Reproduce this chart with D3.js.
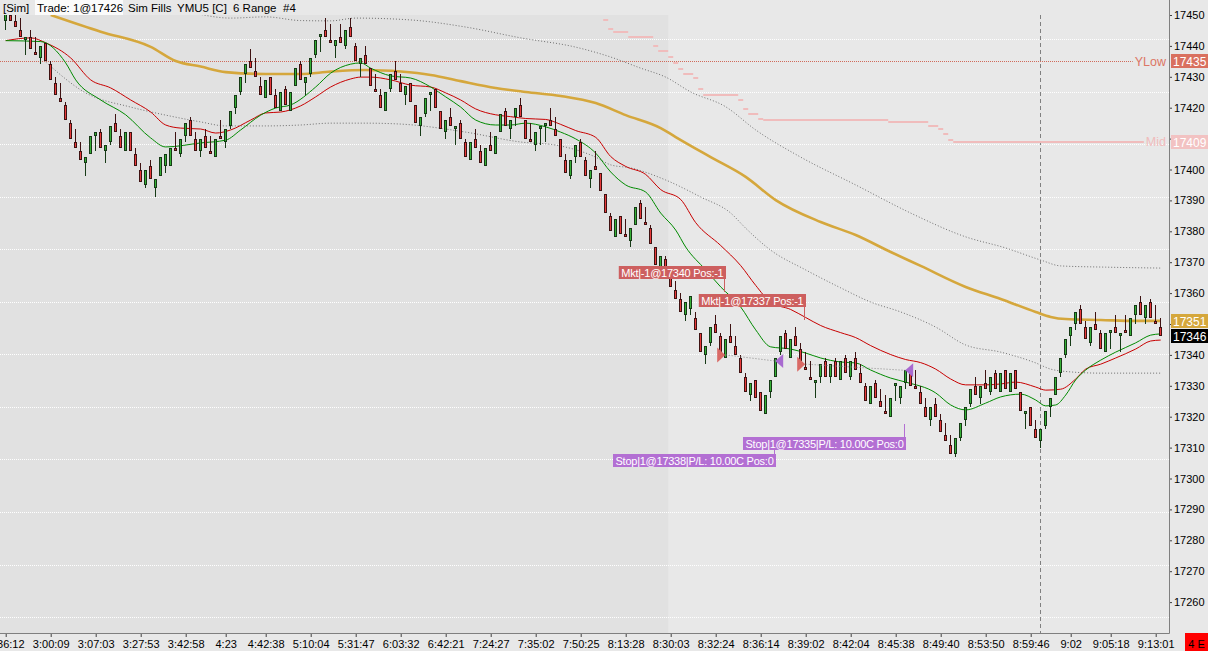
<!DOCTYPE html>
<html>
<head>
<meta charset="utf-8">
<script src="https://cdn.jsdelivr.net/npm/d3@7"></script>
<style>
  body { margin: 0; background: #e8e8e8; overflow: hidden; }
  svg { display: block; font-family: "Liberation Sans", Arial, sans-serif; }
</style>
</head>
<body>
<svg id="chart" width="1208" height="651"></svg>
<script>
// ---- range bars (6 range), bar 1..232 ----
var opens = [
  17448,17450,17448,17445,17442,17443,17438,17436,17441,17434,
  17428,17423,17421,17415,17409,17406,17402,17405,17411,17412,
  17406,17409,17415,17411,17406,17412,17405,17400,17395,17401,
  17394,17398,17401,17401,17407,17405,17411,17416,17410,17406,
  17411,17406,17404,17411,17409,17414,17420,17425,17431,17435,
  17432,17427,17423,17430,17424,17419,17426,17419,17427,17434,
  17428,17431,17437,17443,17445,17442,17440,17443,17440,17446,
  17440,17434,17437,17433,17426,17424,17419,17426,17432,17428,
  17424,17428,17421,17414,17418,17424,17426,17419,17412,17417,
  17413,17415,17409,17403,17410,17406,17401,17408,17405,17412,
  17419,17413,17417,17421,17416,17410,17408,17413,17414,17416,
  17413,17410,17403,17398,17404,17409,17403,17397,17401,17399,
  17392,17385,17378,17385,17379,17377,17382,17389,17383,17381,
  17375,17368,17371,17365,17361,17358,17353,17355,17352,17347,
  17340,17344,17350,17346,17339,17346,17343,17339,17333,17327,
  17332,17328,17321,17328,17333,17341,17347,17339,17346,17342,
  17336,17333,17331,17333,17338,17333,17338,17332,17339,17333,
  17339,17334,17330,17324,17331,17325,17322,17320,17330,17326,
  17331,17334,17330,17328,17323,17319,17324,17319,17314,17311,
  17308,17313,17319,17324,17330,17326,17331,17328,17334,17328,
  17335,17328,17335,17328,17321,17323,17316,17312,17317,17323,
  17327,17334,17340,17346,17350,17355,17349,17344,17350,17347,
  17341,17347,17349,17346,17348,17346,17353,17357,17352,17357,17351,17349
];
var highs = [
  17451,17454,17452,17449,17443,17445,17443,17440,17441,17435,
  17430,17428,17422,17416,17413,17409,17404,17411,17412,17413,
  17408,17414,17418,17413,17412,17412,17407,17402,17400,17403,
  17397,17404,17405,17407,17412,17410,17415,17417,17412,17410,
  17413,17411,17410,17416,17413,17419,17424,17430,17434,17439,
  17436,17430,17429,17430,17426,17425,17427,17425,17433,17435,
  17430,17436,17442,17444,17449,17447,17442,17447,17445,17449,
  17441,17436,17440,17433,17431,17426,17425,17431,17435,17431,
  17427,17428,17421,17417,17423,17425,17426,17419,17416,17420,
  17414,17416,17410,17409,17413,17408,17407,17412,17411,17418,
  17420,17416,17420,17423,17416,17415,17412,17414,17415,17420,
  17417,17410,17405,17403,17408,17410,17404,17400,17406,17399,
  17392,17386,17384,17385,17384,17381,17388,17390,17388,17382,
  17375,17372,17372,17368,17364,17360,17357,17359,17354,17347,
  17343,17349,17353,17347,17345,17350,17346,17340,17334,17331,
  17332,17328,17327,17332,17339,17346,17348,17345,17349,17344,
  17341,17338,17332,17337,17339,17337,17339,17338,17340,17338,
  17341,17337,17331,17330,17332,17329,17327,17326,17331,17330,
  17335,17336,17335,17330,17326,17323,17326,17321,17318,17314,
  17313,17318,17323,17329,17333,17330,17335,17333,17335,17334,
  17335,17334,17335,17328,17322,17323,17319,17316,17322,17326,
  17333,17339,17345,17349,17354,17356,17351,17349,17354,17348,
  17347,17348,17353,17347,17353,17352,17356,17359,17356,17358,17356,17352
];
var lows = [
  17445,17448,17446,17443,17437,17439,17437,17434,17435,17429,
  17424,17422,17416,17410,17407,17403,17398,17405,17406,17407,
  17402,17408,17412,17407,17406,17406,17401,17396,17394,17397,
  17391,17398,17399,17401,17406,17404,17409,17411,17406,17404,
  17407,17405,17404,17410,17407,17413,17418,17424,17428,17433,
  17430,17424,17423,17424,17420,17419,17421,17419,17427,17429,
  17424,17430,17436,17438,17443,17441,17436,17441,17439,17443,
  17435,17430,17434,17427,17425,17420,17419,17425,17429,17425,
  17421,17422,17415,17411,17417,17419,17420,17413,17410,17414,
  17408,17410,17404,17403,17407,17402,17401,17406,17405,17412,
  17414,17410,17414,17417,17410,17409,17406,17408,17409,17414,
  17411,17404,17399,17397,17402,17404,17398,17394,17400,17393,
  17386,17380,17378,17379,17378,17375,17382,17384,17382,17376,
  17369,17366,17366,17362,17358,17354,17351,17353,17348,17341,
  17337,17343,17347,17341,17339,17344,17340,17334,17328,17325,
  17326,17322,17321,17326,17333,17340,17342,17339,17343,17338,
  17335,17332,17326,17331,17333,17331,17333,17332,17334,17332,
  17335,17331,17325,17324,17326,17323,17321,17320,17325,17324,
  17329,17330,17329,17324,17320,17317,17320,17315,17312,17308,
  17307,17312,17317,17323,17327,17324,17329,17327,17329,17328,
  17329,17328,17329,17322,17316,17317,17313,17310,17316,17320,
  17327,17333,17339,17343,17348,17350,17345,17343,17348,17342,
  17341,17342,17347,17341,17347,17346,17350,17353,17350,17352,17350,17346
];
var closes = [
  17451,17448,17446,17443,17443,17439,17437,17440,17435,17429,
  17424,17422,17416,17410,17407,17403,17404,17411,17412,17407,
  17408,17414,17412,17407,17412,17406,17401,17396,17400,17397,
  17397,17404,17405,17407,17406,17410,17415,17411,17406,17410,
  17407,17405,17410,17410,17413,17419,17424,17430,17434,17433,
  17430,17424,17429,17424,17420,17425,17421,17425,17433,17429,
  17430,17436,17442,17444,17443,17441,17442,17441,17445,17443,
  17435,17436,17434,17427,17425,17420,17425,17431,17429,17425,
  17427,17422,17415,17417,17423,17425,17420,17413,17416,17414,
  17414,17410,17404,17409,17407,17402,17407,17406,17411,17418,
  17414,17416,17420,17417,17410,17409,17412,17414,17415,17414,
  17411,17404,17399,17403,17408,17404,17398,17400,17400,17393,
  17386,17380,17384,17379,17378,17381,17388,17384,17382,17376,
  17369,17372,17366,17362,17358,17354,17357,17359,17348,17341,
  17343,17349,17347,17341,17345,17344,17340,17334,17328,17331,
  17326,17322,17327,17332,17339,17346,17342,17345,17343,17338,
  17335,17332,17332,17337,17333,17337,17333,17338,17334,17338,
  17335,17331,17325,17330,17326,17323,17321,17326,17331,17330,
  17335,17330,17329,17324,17320,17323,17320,17315,17312,17308,
  17313,17318,17323,17329,17327,17330,17329,17333,17329,17334,
  17329,17334,17329,17322,17322,17317,17313,17316,17322,17326,
  17333,17339,17345,17349,17354,17350,17345,17349,17348,17342,
  17347,17348,17347,17347,17347,17352,17356,17353,17356,17352,17350,17346
];

// ---- indicator lines, read at sample bars ----
var fastMaBars = [1,8,13,15,20,25,30,33,40,45,48,52,55,58,63,66,70,72,74,78,82,86,89,92,95,99,102,105,109,112,115,119,122,125,129,132,135,137,141,144,148,151,154,158,161,164,168,171,174,178,181,187,190,193,197,200,204,207,209,211,213,215,217,220,223,227,230,232];
var fastMaValues = [17441.7,17441.4,17434.5,17429.0,17422.5,17417.7,17410.2,17407.3,17408.6,17409.5,17412.8,17417.6,17419.9,17420.9,17426.7,17431.2,17434.1,17434.5,17432.8,17430.3,17429.6,17426.7,17423.5,17420.2,17416.0,17414.4,17414.4,17415.0,17413.8,17412.1,17409.9,17405.3,17399.2,17395.0,17392.7,17385.9,17380.4,17374.9,17367.5,17362.0,17355.5,17348.1,17342.6,17341.9,17340.6,17339.0,17337.7,17337.4,17335.1,17332.5,17331.2,17327.7,17323.8,17322.2,17324.4,17326.4,17327.3,17325.4,17323.5,17323.8,17327.0,17331.9,17335.1,17338.3,17340.9,17343.9,17346.4,17346.8];

var slowMaBars = [1,6,9,14,18,22,26,30,33,36,40,43,46,50,53,56,60,63,66,70,72,74,78,82,86,89,92,95,99,102,105,109,112,115,119,122,125,129,132,136,139,144,148,151,154,158,161,164,168,171,174,178,181,184,187,190,193,197,200,203,207,209,212,215,217,220,223,227,230,232];
var slowMaValues = [17441.7,17442.6,17441.0,17436.1,17429.0,17426.4,17422.5,17418.6,17414.4,17413.4,17413.1,17411.8,17412.8,17416.0,17418.3,17418.6,17420.6,17423.5,17426.7,17429.3,17429.9,17429.9,17429.0,17427.3,17426.7,17424.8,17422.5,17419.6,17417.7,17417.1,17416.5,17416.2,17414.6,17412.6,17410.4,17404.2,17401.0,17398.4,17393.5,17390.3,17382.8,17375.4,17368.9,17362.5,17357.0,17354.7,17352.1,17349.5,17347.2,17345.6,17343.0,17340.1,17338.5,17337.5,17335.4,17332.2,17330.3,17330.3,17330.6,17331.2,17329.6,17328.6,17328.9,17332.2,17335.4,17337.0,17339.0,17341.9,17344.5,17344.8];

var longMaBars = [10,20,30,35,40,45,53,60,66,73,80,86,92,99,105,112,119,125,132,135,142,149,155,164,171,178,184,193,200,207,210,213,220,227,232];
var longMaValues = [17450.0,17444.6,17439.7,17435.1,17433.3,17431.5,17430.9,17430.9,17431.7,17432.2,17431.7,17430.6,17428.6,17426.4,17425.1,17423.8,17421.5,17417.6,17413.4,17410.5,17404.0,17397.6,17390.1,17383.0,17378.8,17373.3,17368.8,17362.0,17358.1,17353.9,17352.3,17351.6,17351.3,17351.0,17351.0];

var upperBandBars = [39,46,53,60,66,71,82,93,104,115,122,128,133,138,145,151,160,171,182,193,201,208,212,221,232];
var upperBandValues = [17450.5,17449.0,17449.4,17448.2,17448.1,17449.0,17448.4,17446.1,17442.6,17439.6,17436.4,17432.8,17429.9,17425.1,17420.3,17412.8,17404.0,17395.0,17385.9,17378.2,17374.6,17370.7,17368.8,17368.4,17368.1];

var lowerBandBars = [9,17,26,33,40,45,53,60,66,73,80,93,104,111,119,122,126,133,140,146,149,154,161,168,174,180,187,193,200,207,210,212,220,232];
var lowerBandValues = [17434.8,17424.8,17420.2,17417.6,17415.4,17414.1,17414.1,17414.4,17415.0,17415.0,17414.7,17412.1,17408.9,17407.9,17404.0,17401.5,17400.5,17396.6,17391.1,17385.9,17381.0,17373.9,17367.5,17361.7,17357.1,17353.9,17349.0,17343.2,17340.9,17337.4,17335.4,17334.8,17334.1,17334.1];

// day mid (steps start at these bars)
var midStepBars = [121,122,123,126,131,132,134,135,136,137,139,140,141,148,149,150,152,153,178,186,188,189,190,191];
var midStepValues = [17448.5,17445.5,17444.5,17443,17440,17438.5,17436.5,17434.5,17432.5,17431,17429.5,17426,17424,17422.5,17419.5,17418,17416.5,17416,17415.5,17414,17413,17411.5,17409.5,17409];
var yesterdayLow = 17435;

// executions
var execBars = [145, 155, 161, 181];
var execPrices = [17340, 17338, 17337, 17335];
var execSides = ['sell', 'buy', 'sell', 'buy'];
var execTexts = ['Mkt|-1@17340 Pos:-1', 'Stop|1@17338|P/L: 10.00C Pos:0', 'Mkt|-1@17337 Pos:-1', 'Stop|1@17335|P/L: 10.00C Pos:0'];
var execLabelPrices = [17366.8, 17305.8, 17357.6, 17311.2];

// axes
var priceTicks = d3.range(17260, 17451, 10);
var gridPrices = [17442, 17425, 17408, 17391, 17374, 17357, 17340, 17323, 17306, 17289, 17272, 17255];
var timeTickBars = [1,10,19,28,37,45,53,62,71,80,89,98,107,116,125,134,143,152,161,170,179,188,197,206,214,222,231];
var timeTickLabels = ['2:36:12','3:00:09','3:07:03','3:27:53','3:42:58','4:23','4:42:38','5:10:04','5:31:47','6:03:32','6:42:21','7:24:27','7:35:02','7:50:25','8:13:28','8:30:03','8:32:24','8:36:14','8:39:02','8:42:04','8:45:38','8:49:40','8:53:50','8:59:46','9:02','9:05:18','9:13:01'];
var sessionOpenBar = 134;
var markerBar = 208;
var lastPrice = 17346;
var longMaLast = 17351;
var dayMid = 17409;

// ---- drawing ----
var W = 1208, H = 651, axisX = 1169, axisY = 633, plotTop = 15;
var svg = d3.select('#chart');

var x = d3.scaleLinear().domain([1, 232]).range([5.7, 1160.7]);
var y = d3.scaleLinear().domain([17260, 17450]).range([602.1, 15]);
var px = function(v) { return Math.floor(v) + 0.5; };

svg.append('rect').attr('width', W).attr('height', H).attr('fill', '#e8e8e8');

svg.append('defs').append('clipPath').attr('id', 'plotclip')
  .append('rect').attr('x', 0).attr('y', plotTop).attr('width', axisX).attr('height', axisY - plotTop);

var plot = svg.append('g').attr('clip-path', 'url(#plotclip)');

// overnight session shading
plot.append('rect')
  .attr('x', 0).attr('y', plotTop)
  .attr('width', x(sessionOpenBar) - 2.5).attr('height', axisY - plotTop)
  .attr('fill', '#e1e1e1');

// grid
plot.selectAll('line.grid').data(gridPrices).enter().append('line')
  .attr('class', 'grid')
  .attr('x1', 0).attr('x2', axisX)
  .attr('y1', function(d) { return px(y(d)); })
  .attr('y2', function(d) { return px(y(d)); })
  .attr('stroke', '#ffffff').attr('stroke-dasharray', '1,1');

// vertical marker
plot.append('line')
  .attr('x1', px(x(markerBar))).attr('x2', px(x(markerBar)))
  .attr('y1', plotTop).attr('y2', axisY)
  .attr('stroke', '#808080').attr('stroke-dasharray', '4,3');

// yesterday low
var ylowText = svg.append('text')
  .attr('x', 1166).attr('y', y(yesterdayLow) + 4.5)
  .attr('text-anchor', 'end').attr('font-size', 12.5)
  .attr('fill', '#dc7665').text('YLow');
plot.append('line')
  .attr('x1', 0).attr('x2', ylowText.node().getBBox().x - 2)
  .attr('y1', px(y(yesterdayLow))).attr('y2', px(y(yesterdayLow)))
  .attr('stroke', '#d06a5a').attr('stroke-dasharray', '1,1');

// day mid steps
var midText = svg.append('text')
  .attr('x', 1166).attr('y', y(dayMid) + 4.5)
  .attr('text-anchor', 'end').attr('font-size', 12.5)
  .attr('fill', '#f0bcbc').text('Mid');
var midEnd = midText.node().getBBox().x - 2;
plot.selectAll('line.mid').data(midStepValues).enter().append('line')
  .attr('class', 'mid')
  .attr('x1', function(d, i) { return x(midStepBars[i]) - 2.5; })
  .attr('x2', function(d, i) { return i < midStepBars.length - 1 ? x(midStepBars[i + 1]) - 2.5 : midEnd; })
  .attr('y1', function(d) { return Math.round(y(d)); })
  .attr('y2', function(d) { return Math.round(y(d)); })
  .attr('stroke', '#f0bcbc').attr('stroke-width', 2);

// indicator lines
function path(bars, vals) {
  return d3.line()
    .x(function(d, i) { return x(bars[i]); })
    .y(function(d) { return y(d); })
    .curve(d3.curveMonotoneX)(vals);
}
plot.append('path').attr('d', path(upperBandBars, upperBandValues))
  .attr('fill', 'none').attr('stroke', '#6e6e6e').attr('stroke-dasharray', '1,2');
plot.append('path').attr('d', path(lowerBandBars, lowerBandValues))
  .attr('fill', 'none').attr('stroke', '#6e6e6e').attr('stroke-dasharray', '1,2');
plot.append('path').attr('d', path(longMaBars, longMaValues))
  .attr('fill', 'none').attr('stroke', '#d5a73c').attr('stroke-width', 2.6);
plot.append('path').attr('d', path(slowMaBars, slowMaValues))
  .attr('fill', 'none').attr('stroke', '#c80000').attr('stroke-width', 1);
plot.append('path').attr('d', path(fastMaBars, fastMaValues))
  .attr('fill', 'none').attr('stroke', '#008a00').attr('stroke-width', 1);

// candles
var bars = d3.range(opens.length).map(function(i) {
  return { i: i + 1, o: opens[i], h: highs[i], l: lows[i], c: closes[i] };
});
var candle = plot.selectAll('g.bar').data(bars).enter().append('g').attr('class', 'bar');
candle.append('line')
  .attr('x1', function(d) { return px(x(d.i)); })
  .attr('x2', function(d) { return px(x(d.i)); })
  .attr('y1', function(d) { return Math.round(y(d.h)); })
  .attr('y2', function(d) { return Math.round(y(d.l)); })
  .attr('stroke', function(d) { return d.c >= d.o ? '#163a16' : '#3e1212'; });
candle.append('rect')
  .attr('x', function(d) { return px(x(d.i)) - 1.5; })
  .attr('width', 3)
  .attr('y', function(d) { return Math.round(y(Math.max(d.o, d.c))); })
  .attr('height', function(d) { return Math.max(2, Math.round(y(Math.min(d.o, d.c))) - Math.round(y(Math.max(d.o, d.c)))); })
  .attr('fill', function(d) { return d.c >= d.o ? '#163a16' : '#3e1212'; });
candle.append('rect')
  .attr('x', function(d) { return px(x(d.i)) - 0.5; })
  .attr('width', 1)
  .attr('y', function(d) { return Math.round(y(Math.max(d.o, d.c))) + 1; })
  .attr('height', function(d) { return Math.max(0, Math.round(y(Math.min(d.o, d.c))) - Math.round(y(Math.max(d.o, d.c))) - 2); })
  .attr('fill', function(d) { return d.c >= d.o ? '#36b036' : '#e83a3a'; });

// trade connectors (entry -> exit)
for (var k = 0; k < execBars.length; k += 2) {
  plot.append('line')
    .attr('x1', x(execBars[k])).attr('y1', y(execPrices[k]))
    .attr('x2', x(execBars[k + 1])).attr('y2', y(execPrices[k + 1]))
    .attr('stroke', '#8a8a8a').attr('stroke-dasharray', '1,2');
}

// execution markers + labels
execBars.forEach(function(b, k) {
  var sell = execSides[k] === 'sell';
  var col = sell ? '#cd5f5f' : '#b36fd3';
  var tx = x(b) - 0.5, ty = y(execPrices[k]);
  var pts = sell
    ? [[tx, ty], [tx - 8, ty - 7.5], [tx - 8, ty + 7.5]]
    : [[tx, ty], [tx + 8, ty - 7], [tx + 8, ty + 7]];
  plot.append('polygon').attr('points', pts.map(function(p) { return p.join(','); }).join(' '))
    .attr('fill', sell ? '#d96a66' : '#a86ad0');

  var cy = y(execLabelPrices[k]);
  var g = plot.append('g');
  var t = g.append('text')
    .attr('font-size', 11).attr('letter-spacing', -0.25)
    .attr('fill', '#ffffff').text(execTexts[k]);
  var tw = t.node().getComputedTextLength();
  var bw = tw + 5, bh = 13;
  var right = Math.round(x(b));
  g.insert('rect', 'text')
    .attr('x', right - bw).attr('y', Math.round(cy - bh / 2))
    .attr('width', bw).attr('height', bh).attr('fill', col);
  t.attr('x', right - bw + 2.5).attr('y', Math.round(cy - bh / 2) + 10.5);
  var cx = Math.round(x(b)) - 1.5;
  g.append('line')
    .attr('x1', cx).attr('x2', cx)
    .attr('y1', sell ? Math.round(cy + bh / 2) : Math.round(cy - bh / 2))
    .attr('y2', sell ? Math.round(cy + bh / 2) + 13 : Math.round(cy - bh / 2) - 13)
    .attr('stroke', col);
});

// price tags on the axis (these hide the tick labels they sit on)
var tags = [
  { p: yesterdayLow, bg: '#d9705f' },
  { p: dayMid, bg: '#f2c2c2' },
  { p: longMaLast, bg: '#d5a73c' },
  { p: lastPrice, bg: '#000000' }
];
function underTag(v) {
  return tags.some(function(t) { return Math.abs(y(t.p) - y(v)) < 9; });
}

// right axis
var yAxis = d3.axisRight(y).tickValues(priceTicks).tickSize(3).tickPadding(2)
  .tickFormat(function(d) { return underTag(d) ? '' : d3.format('d')(d); });
var ya = svg.append('g').attr('transform', 'translate(' + axisX + ',0)').call(yAxis);
ya.select('.domain').remove();
ya.selectAll('.tick line').attr('stroke', '#404040');
ya.selectAll('.tick text').attr('font-size', 11).attr('fill', '#000')
  .attr('font-family', '"Liberation Sans", Arial, sans-serif');

// bottom axis
var xAxis = d3.axisBottom(x).tickValues(timeTickBars).tickSize(4).tickPadding(3)
  .tickFormat(function(d, i) { return timeTickLabels[i]; });
var xa = svg.append('g').attr('transform', 'translate(0,' + axisY + ')').call(xAxis);
xa.select('.domain').remove();
xa.selectAll('.tick line').attr('stroke', '#404040');
xa.selectAll('.tick text').attr('font-size', 11).attr('fill', '#000')
  .attr('font-family', '"Liberation Sans", Arial, sans-serif');

svg.append('line').attr('x1', axisX + 0.5).attr('x2', axisX + 0.5).attr('y1', 0).attr('y2', axisY + 0.5)
  .attr('stroke', '#7f7f7f');
svg.append('line').attr('x1', 0).attr('x2', axisX + 0.5).attr('y1', axisY + 0.5).attr('y2', axisY + 0.5)
  .attr('stroke', '#7f7f7f');

tags.forEach(function(t) {
  var ty = Math.round(y(t.p));
  svg.append('rect').attr('x', axisX + 2).attr('y', ty - 7).attr('width', 37).attr('height', 14).attr('fill', t.bg);
  svg.append('text').attr('x', axisX + 4).attr('y', ty + 4.5).attr('font-size', 12)
    .attr('fill', '#ffffff').text(t.p);
});

// connection box
svg.append('rect').attr('x', 1185).attr('y', axisY).attr('width', 23).attr('height', H - axisY).attr('fill', '#ff0000');
svg.append('text').attr('x', 1196.5).attr('y', 648).attr('text-anchor', 'middle').attr('font-size', 11)
  .attr('fill', '#000').text('4 E');

// header
svg.append('rect').attr('x', 35).attr('y', 0).attr('width', 88).attr('height', 15).attr('fill', '#fbfbfb');
var header = [['[Sim]', 3], ['Trade: 1@17426', 37], ['Sim Fills', 128], ['YMU5 [C]', 177], ['6 Range', 233], ['#4', 283]];
header.forEach(function(h) {
  svg.append('text').attr('x', h[1]).attr('y', 12).attr('font-size', 11.5).attr('fill', '#000').text(h[0]);
});
</script>
</body>
</html>
